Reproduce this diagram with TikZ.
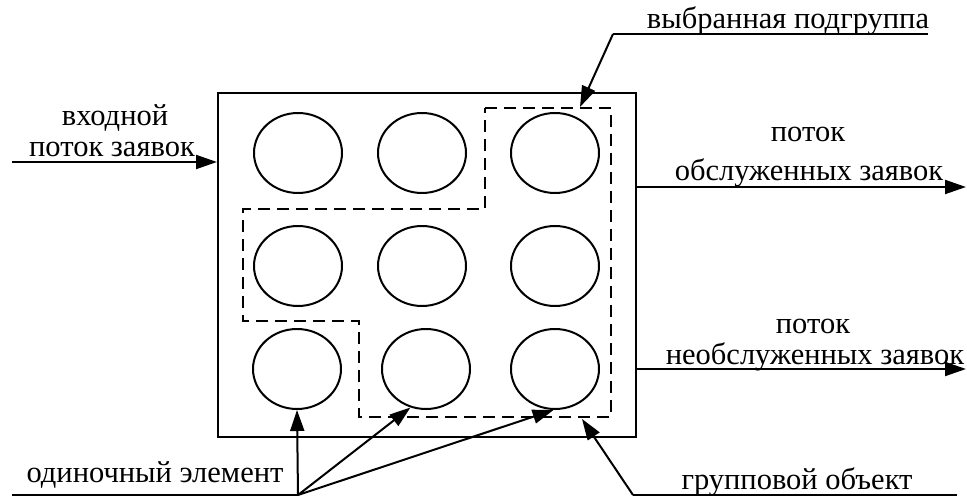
\documentclass[tikz,border=0pt]{standalone}
\usepackage{fontspec}
\setmainfont{Liberation Serif}
\usetikzlibrary{shapes.geometric,arrows.meta}
\begin{document}
\begin{tikzpicture}[x=1pt,y=-1pt,
  ln/.style={line width=2pt},
  arr/.style={ln,-{Triangle[length=21pt,width=14pt]}},
  elem/.style={draw,ln,ellipse,minimum width=88pt,minimum height=80pt,inner sep=0pt},
  grp/.style={draw,ln,minimum width=418pt,minimum height=344pt,inner sep=0pt},
  lbl/.style={anchor=base,inner sep=0pt,font=\fontsize{30.5}{35}\selectfont},
  sub/.style={ln,dash pattern=on 12pt off 7pt}]
\useasboundingbox (0,0) rectangle (967,497);
% group object
\node[grp] (box) at (427,265) {};
% elements
\node[elem] (c11) at (298,153) {};
\node[elem] (c12) at (422,153) {};
\node[elem] (c13) at (555,153) {};
\node[elem] (c21) at (298,266) {};
\node[elem] (c22) at (422,266) {};
\node[elem] (c23) at (555,266) {};
\node[elem] (c31) at (297,369) {};
\node[elem] (c32) at (426,369) {};
\node[elem] (c33) at (555,369) {};
% selected subgroup
\draw[sub] (485,108) -- (611,108) -- (611,417) -- (359,417) -- (359,321)
  -- (243,321) -- (243,209) -- (485,209) -- cycle;
% input flow
\coordinate (inS) at (12,162);
\draw[arr] (inS) -- (inS -| box.west);
\node[lbl] (tin1) at (115,126) {входной};
\node[lbl] (tin2) at (112,157) {поток заявок};
% served flow
\coordinate (o1E) at (966,187);
\draw[arr] (o1E -| box.east) -- (o1E);
\node[lbl] (to1a) at (808,142) {поток};
\node[lbl] (to1b) at (809,181) {обслуженных заявок};
% unserved flow
\coordinate (o2E) at (966,369);
\draw[arr] (o2E -| box.east) -- (o2E);
\node[lbl] (to2a) at (813,333) {поток};
\node[lbl] (to2b) at (815,364) {необслуженных заявок};
% selected subgroup label
\coordinate (sgR) at (928,34);
\coordinate (sgL) at (613,34);
\coordinate (sgT) at (580,107);
\draw[ln] (sgR) -- (sgL);
\draw[arr] (sgL) -- (sgT);
\node[lbl] (tsg) at (788,29) {выбранная подгруппа};
% single element label
\coordinate (seL) at (12,495);
\coordinate (seP) at (298,495);
\draw[ln] (seL) -- (seP);
\draw[arr] (seP) -- (c31.south);
\draw[arr] (seP) -- (c32.248);
\draw[arr] (seP) -- (c33.268);
\node[lbl] (tse) at (155,482) {одиночный элемент};
% group object label
\coordinate (goR) at (957,495);
\coordinate (goL) at (633,495);
\coordinate (goT) at (582,419);
\draw[ln] (goR) -- (goL);
\draw[arr] (goL) -- (goT);
\node[lbl] (tgo) at (797,489) {групповой объект};
\end{tikzpicture}
\end{document}
